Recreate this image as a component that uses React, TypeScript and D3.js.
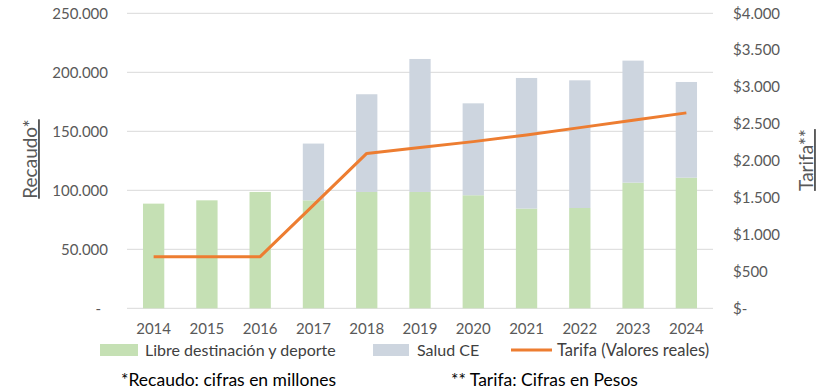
import React from 'react';
import * as d3 from 'd3';

const years = ['2014', '2015', '2016', '2017', '2018', '2019', '2020', '2021', '2022', '2023', '2024'];
const libre = [88700, 91500, 98600, 91500, 98600, 98600, 95800, 84500, 85000, 106500, 110700];
const salud = [0, 0, 0, 48100, 82800, 112700, 77900, 110700, 108200, 103400, 81100];
const tarifa = [700, 700, 700, 1400, 2100, 2180, 2260, 2350, 2450, 2550, 2650];
const leftTicks = [0, 50000, 100000, 150000, 200000, 250000];
const rightTicks = [0, 500, 1000, 1500, 2000, 2500, 3000, 3500, 4000];

const GREEN = '#C5E0B4';
const GRAY = '#CDD5DF';
const ORANGE = '#ED7D31';
const FONT = 'Lato, "Open Sans", sans-serif';

const fmt = (v: number) => (v === 0 ? '-' : d3.format(',')(v).replace(/,/g, '.'));

const App = () => {
  const x = d3.scaleBand<string>().domain(years).range([127, 713]).paddingInner(0.6).paddingOuter(0.3);
  const yL = d3.scaleLinear().domain([0, 250000]).range([308.3, 13.3]);
  const yR = d3.scaleLinear().domain([0, 4000]).range([308.3, 13.3]);
  const bw = x.bandwidth();
  const cx = (d: string) => (x(d) as number) + bw / 2;

  const line = d3.line<number>()
    .x((_, i) => cx(years[i]))
    .y(d => yR(d));

  return (
    <svg width={827} height={392} style={{ position: 'absolute', left: 0, top: 0, background: '#fff' }}
      fontFamily={FONT}>
      {leftTicks.map(t => (
        <line key={'g' + t} x1={127} x2={713} y1={yL(t)} y2={yL(t)} stroke="#D9D9D9" strokeWidth={1} />
      ))}
      {years.map((yr, i) => (
        <g key={yr}>
          <rect x={x(yr)} y={yL(libre[i])} width={bw} height={yL(0) - yL(libre[i])} fill={GREEN} />
          {salud[i] > 0 && (
            <rect x={x(yr)} y={yL(libre[i] + salud[i])} width={bw}
              height={yL(libre[i]) - yL(libre[i] + salud[i])} fill={GRAY} />
          )}
        </g>
      ))}
      <path d={line(tarifa) || ''} fill="none" stroke={ORANGE} strokeWidth={3} strokeLinejoin="round" />

      {leftTicks.map(t => (
        <text key={'l' + t} x={t === 0 ? 101 : 108} y={yL(t)} dy="0.35em" textAnchor="end"
          fontSize={15} fill="#595959">{fmt(t)}</text>
      ))}
      {rightTicks.map(t => (
        <text key={'r' + t} x={733} y={yR(t)} dy="0.35em" fontSize={15} fill="#595959">
          {'$' + fmt(t)}
        </text>
      ))}
      {years.map(yr => (
        <text key={'x' + yr} x={cx(yr)} y={329} dy="0.35em" textAnchor="middle" fontSize={15} fill="#595959">{yr}</text>
      ))}

      <text transform="translate(37,159) rotate(-90)" textAnchor="middle" fontSize={19} fill="#595959"
        textDecoration="underline">Recaudo*</text>
      <text transform="translate(813,160) rotate(-90)" textAnchor="middle" fontSize={19} fill="#595959"
        textDecoration="underline">Tarifa**</text>

      <rect x={100} y={344} width={38} height={12} fill={GREEN} />
      <text x={145} y={350} dy="0.35em" fontSize={16} fill="#404040">Libre destinación y deporte</text>
      <rect x={373} y={344} width={36} height={12} fill={GRAY} />
      <text x={417} y={350} dy="0.35em" fontSize={16} fill="#404040">Salud CE</text>
      <line x1={511} x2={552} y1={350} y2={350} stroke={ORANGE} strokeWidth={3} />
      <text x={557} y={350} dy="0.35em" fontSize={16.5} fill="#404040">Tarifa (Valores reales)</text>

      <text x={121} y={380} dy="0.35em" fontSize={17.5} fill="#000">*Recaudo: cifras en millones</text>
      <text x={451} y={380} dy="0.35em" fontSize={17.5} fill="#000">** Tarifa: Cifras en Pesos</text>
    </svg>
  );
};

export default App;
